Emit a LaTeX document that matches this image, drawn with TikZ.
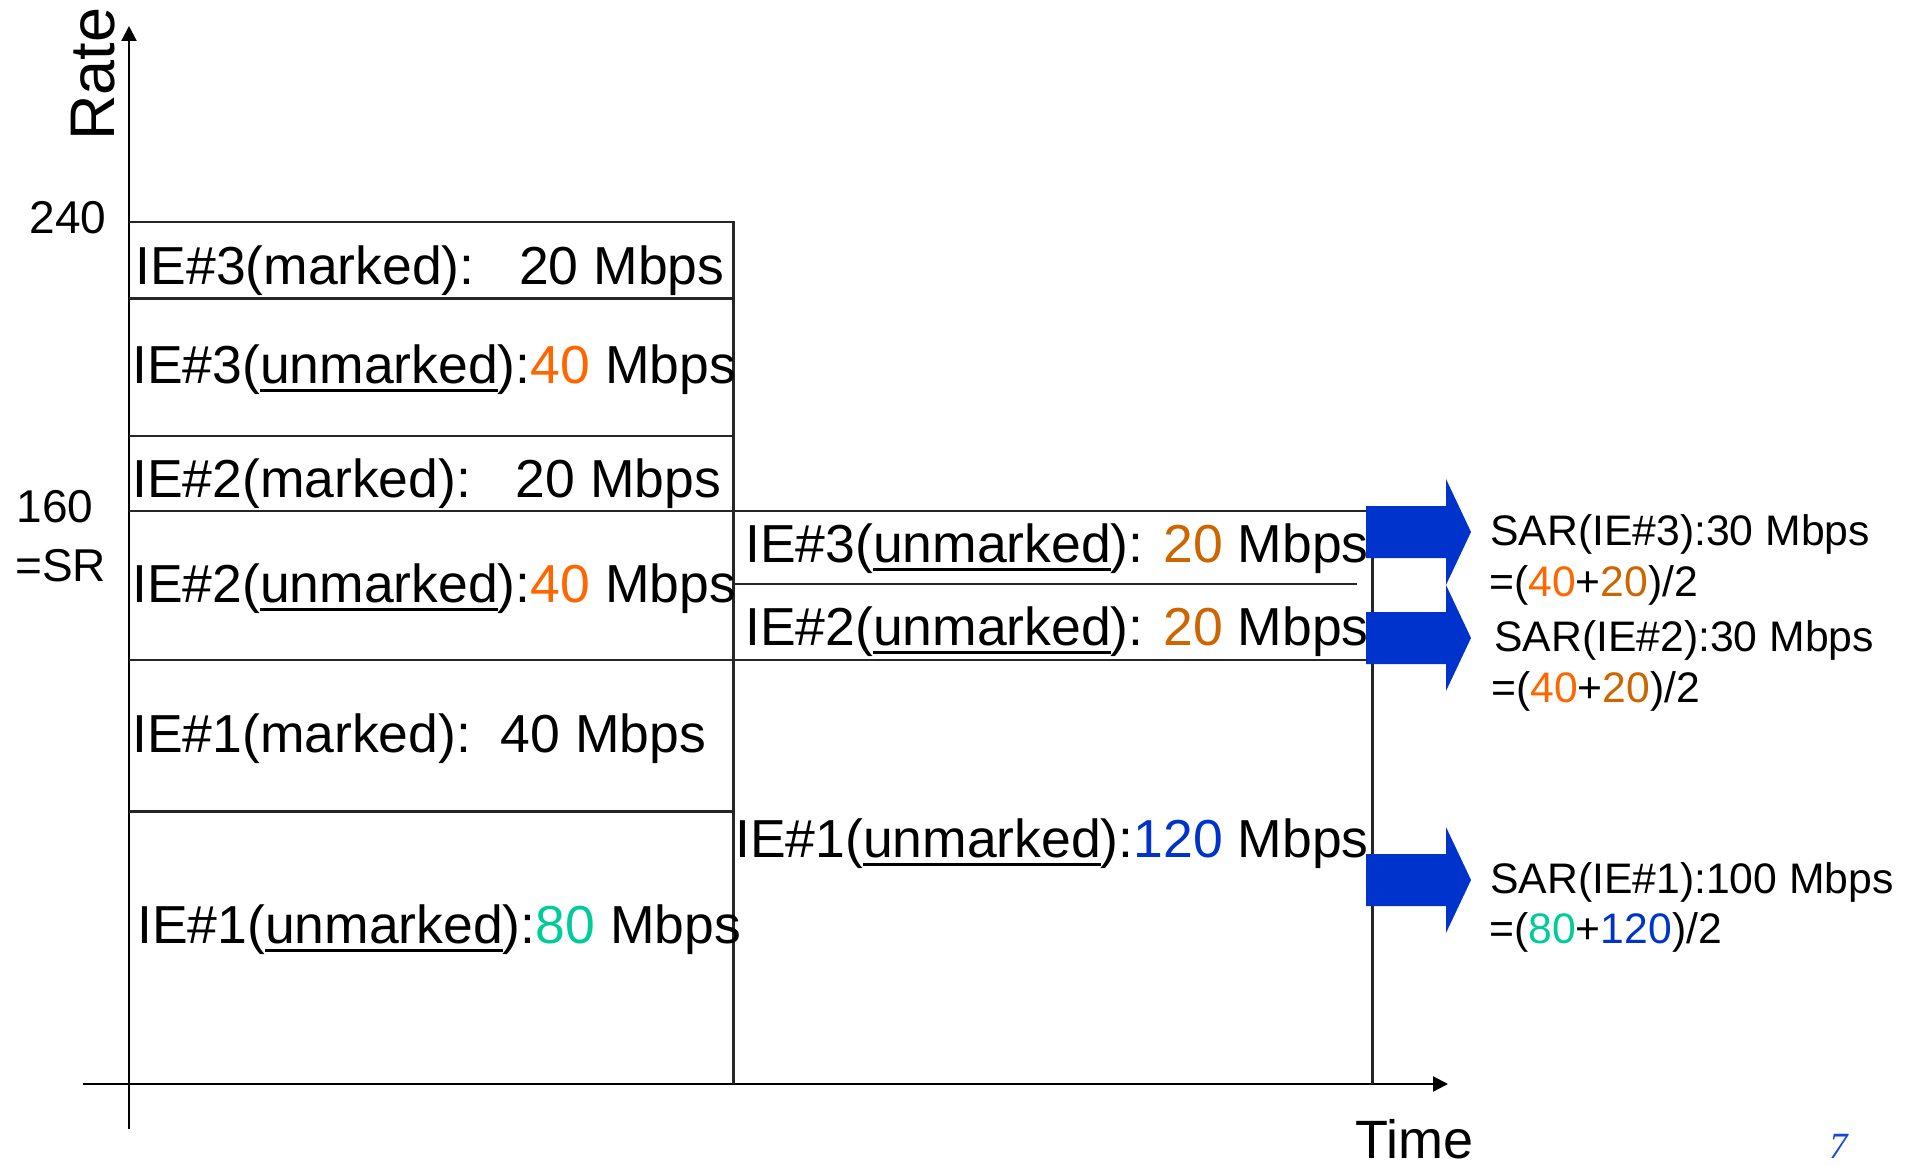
\documentclass[tikz,border=0pt]{standalone}
\usepackage{fontspec}
\setmainfont{Liberation Sans}
\newfontfamily\pagefont{Liberation Serif}
\usetikzlibrary{arrows.meta}

\definecolor{orangeA}{RGB}{255,102,0}
\definecolor{orangeB}{RGB}{204,102,0}
\definecolor{greenA}{RGB}{0,204,153}
\definecolor{blueA}{RGB}{0,51,204}
\definecolor{pageblue}{RGB}{20,70,225}

% underline drawn as a fixed rule below the word
\newcommand\ulword[1]{\setbox0=\hbox{#1}\rlap{\rule[-8.5pt]{\wd0}{3pt}}\box0}

\tikzset{
  lbl/.style={anchor=base west, inner sep=0pt, font=\fontsize{53.5}{60}\selectfont},
  sar/.style={anchor=base west, inner sep=0pt, font=\fontsize{42.7}{48}\selectfont},
  ticklbl/.style={anchor=base west, inner sep=0pt, font=\fontsize{46}{52}\selectfont},
  axis/.style={line width=2.2pt, -{Triangle[length=15pt,width=15pt]}},
  gridline/.style={line width=2.2pt, black!85},
  blockarrow/.style={fill=blueA},
}

\begin{document}
\begin{tikzpicture}[x=1pt,y=-1pt]
\useasboundingbox (0,0) rectangle (1915,1166);

% axes
\coordinate (ybot) at (129,1129);
\coordinate (ytop) at (129,26);
\coordinate (xleft) at (83,1084);
\coordinate (xright) at (1448,1084);
\draw[axis] (ybot) -- (ytop);
\draw[axis] (xleft) -- (xright);

% left column
\draw[gridline] (129,222) -- (733.5,222) -- (733.5,1084);
\foreach \yy in {298.5,436,811.5}
  \draw[gridline] (129,\yy) -- (733.5,\yy);
\draw[gridline] (129,511) -- (1366,511);
\draw[gridline] (129,660) -- (1366,660);

% right column
\draw[gridline] (733.5,584) -- (1357,584);
\draw[gridline] (1372.5,511) -- (1372.5,1084);

% block arrows
\foreach \c in {532,638,880}
  \fill[blockarrow] (1366,\c-26) -- (1446,\c-26) -- (1446,\c-53) -- (1471,\c)
        -- (1446,\c+53) -- (1446,\c+26) -- (1366,\c+26) -- cycle;

% axis labels
\node[anchor=base west, inner sep=0pt, rotate=90, font=\fontsize{63}{70}\selectfont] (rate) at (114,141) {Rate};
\node[anchor=base west, inner sep=0pt, font=\fontsize{54}{60}\selectfont] (time) at (1355,1158) {Time};
\node[ticklbl] (t240) at (29.5,233.5) {240};
\node[ticklbl] (t160) at (16.4,522) {160};
\node[ticklbl] (tsr) at (15,581) {=SR};

% left column texts
\node[lbl] (m3) at (135.5,285) {IE\#3(marked):\ \ \ 20 Mbps};
\node[lbl] (u3) at (132,383) {IE\#3(\ulword{unmarked}):\textcolor{orangeA}{40} Mbps};
\node[lbl] (m2) at (132,497) {IE\#2(marked):\ \ \ 20 Mbps};
\node[lbl] (u2) at (132,602) {IE\#2(\ulword{unmarked}):\textcolor{orangeA}{40} Mbps};
\node[lbl] (m1) at (132,752) {IE\#1(marked):\ \ 40 Mbps};
\node[lbl] (u1) at (137,943) {IE\#1(\ulword{unmarked}):\textcolor{greenA}{80} Mbps};

% right column texts
\node[lbl] (r3) at (745,562) {IE\#3(\ulword{unmarked}): \textcolor{orangeB}{20} Mbps};
\node[lbl] (r2) at (745,645) {IE\#2(\ulword{unmarked}): \textcolor{orangeB}{20} Mbps};
\node[lbl] (r1) at (735,857) {IE\#1(\ulword{unmarked}):\textcolor{blueA}{120} Mbps};

% resulting rates
\node[sar] (s3) at (1490,545) {SAR(IE\#3):30 Mbps};
\node[sar] (f3) at (1489,596) {=(\textcolor{orangeA}{40}+\textcolor{orangeB}{20})/2};
\node[sar] (s2) at (1494,651) {SAR(IE\#2):30 Mbps};
\node[sar] (f2) at (1491,702) {=(\textcolor{orangeA}{40}+\textcolor{orangeB}{20})/2};
\node[sar] (s1) at (1490,893) {SAR(IE\#1):100 Mbps};
\node[sar] (f1) at (1489,943) {=(\textcolor{greenA}{80}+\textcolor{blueA}{120})/2};

% page number
\node[anchor=base west, inner sep=0pt, text=pageblue, font=\pagefont\itshape\fontsize{37}{42}\selectfont] (pg) at (1829,1158) {7};
\end{tikzpicture}
\end{document}
